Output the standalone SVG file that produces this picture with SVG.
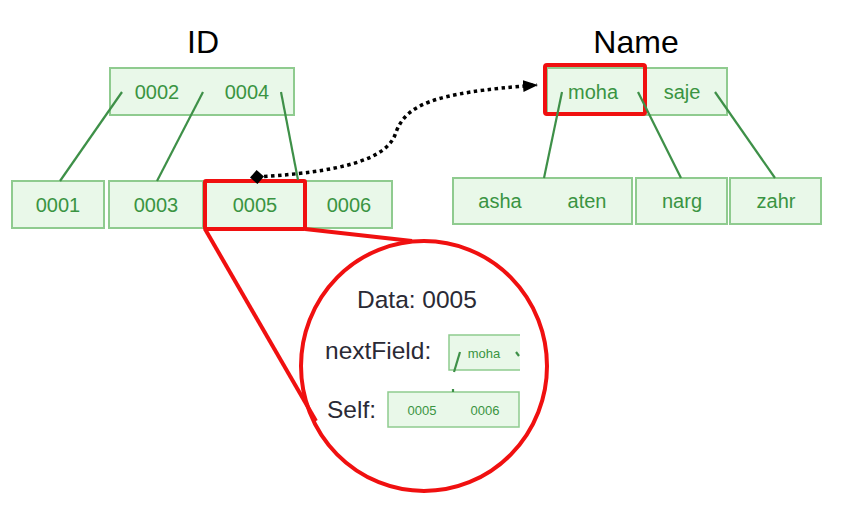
<svg xmlns="http://www.w3.org/2000/svg" width="845" height="505" viewBox="0 0 845 505">
<style>
.box{fill:#e9f8e9;stroke:#8fcb8f;stroke-width:2}
.t{font-family:"Liberation Sans",Arial,sans-serif;fill:#3a9442;font-size:20px;text-anchor:middle}
.ts{font-family:"Liberation Sans",Arial,sans-serif;fill:#3a9442;font-size:13px;text-anchor:middle}
.edge{stroke:#3e9048;stroke-width:2.2;fill:none}
.head{font-family:"Liberation Sans",Arial,sans-serif;fill:#000;font-size:32px;text-anchor:middle}
.lbl{font-family:"Liberation Sans",Arial,sans-serif;fill:#2a2a35;font-size:24.5px}
.red{fill:none;stroke:#f01010;stroke-width:4}
</style>
<defs>
<marker id="arr" refX="14" refY="7" markerWidth="20" markerHeight="20" markerUnits="userSpaceOnUse" orient="auto"><path d="M0,1L15,7L0,13z" fill="#000"/></marker>
<marker id="dia" refX="7" refY="7" markerWidth="20" markerHeight="20" markerUnits="userSpaceOnUse" orient="auto"><path d="M0,7L7,0L14,7L7,14z" fill="#000"/></marker>
</defs>
<rect width="845" height="505" fill="#fff"/>
<text class="head" x="203" y="53">ID</text>
<text class="head" x="636" y="53">Name</text>

<g id="id-root"><rect class="box" x="110" y="68" width="184" height="47"/><text class="t" x="157" y="99">0002</text><text class="t" x="247" y="99">0004</text></g>
<g id="id-0001"><rect class="box" x="12" y="181" width="92" height="47"/><text class="t" x="58" y="212">0001</text></g>
<g id="id-0003"><rect class="box" x="109" y="181" width="94" height="47"/><text class="t" x="156" y="212">0003</text></g>
<g id="id-0005"><rect class="box" x="206" y="181" width="98" height="47"/><text class="t" x="255" y="212">0005</text></g>
<g id="id-0006"><rect class="box" x="306" y="181" width="86" height="47"/><text class="t" x="349" y="212">0006</text></g>

<g id="name-root"><rect class="box" x="547" y="68" width="180" height="47"/><text class="t" x="593" y="99">moha</text><text class="t" x="682" y="99">saje</text></g>
<g id="name-asha"><rect class="box" x="453" y="178" width="179" height="46"/><text class="t" x="500" y="208">asha</text><text class="t" x="587" y="208">aten</text></g>
<g id="name-narg"><rect class="box" x="636" y="178" width="91" height="46"/><text class="t" x="682" y="208">narg</text></g>
<g id="name-zahr"><rect class="box" x="730" y="178" width="91" height="46"/><text class="t" x="776" y="208">zahr</text></g>

<g id="highlights">
<rect class="red" x="205" y="181" width="100" height="48" rx="1"/>
<rect class="red" x="545" y="65" width="100" height="49" rx="2"/>
<line class="red" x1="205" y1="229" x2="316" y2="421" stroke-width="3.5"/>
<line class="red" x1="305" y1="229" x2="412" y2="241" stroke-width="3.5"/>
<ellipse class="red" cx="424" cy="366" rx="123" ry="125"/>
</g>

<g id="connectors">
<line class="edge" x1="122" y1="92" x2="60" y2="181"/>
<line class="edge" x1="203" y1="92" x2="157" y2="181"/>
<line class="edge" x1="281" y1="92" x2="298" y2="180"/>
<line class="edge" x1="562" y1="92" x2="544" y2="178"/>
<line class="edge" x1="638" y1="92" x2="681" y2="178"/>
<line class="edge" x1="715" y1="92" x2="775" y2="178"/>
<path d="M257,177 C340,172 385,160 395,135 C405,105 430,93 537,85" fill="none" stroke="#000" stroke-width="3.5" stroke-dasharray="3.5,3.5" marker-start="url(#dia)" marker-end="url(#arr)"/>
</g>

<g id="detail">
<text class="lbl" x="357" y="308">Data: 0005</text>
<text class="lbl" x="325" y="359">nextField:</text>
<text class="lbl" x="327" y="418">Self:</text>
<path d="M520,335H449V370H520" fill="#e9f8e9" stroke="#8fcb8f" stroke-width="1.5"/>
<text class="ts" x="484" y="358">moha</text>
<line class="edge" x1="460" y1="352" x2="454" y2="372" stroke-width="1.5"/>
<line class="edge" x1="516" y1="352" x2="519" y2="356" stroke-width="1.5"/>
<rect x="388" y="392" width="131" height="35" fill="#e9f8e9" stroke="#8fcb8f" stroke-width="1.5"/>
<line class="edge" x1="453" y1="389" x2="453" y2="392" stroke-width="1.5"/>
<text class="ts" x="422" y="415">0005</text>
<text class="ts" x="485" y="415">0006</text>
</g>
</svg>
